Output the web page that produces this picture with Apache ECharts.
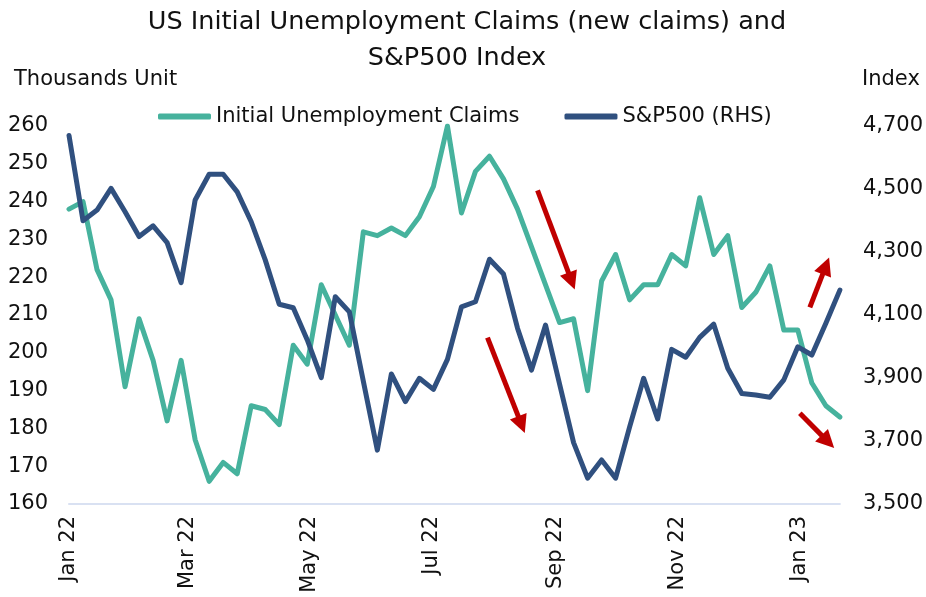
<!DOCTYPE html>
<html><head><meta charset="utf-8">
<script src="https://cdn.jsdelivr.net/npm/echarts@6/dist/echarts.min.js"></script>
<style>html,body{margin:0;padding:0;background:#fff}#c{width:926px;height:597px}</style>
</head><body><div id="c"></div>
<script>
// Weekly observations (week ending dates)
const weeks = ['2022-01-01','2022-01-08','2022-01-15','2022-01-22','2022-01-29','2022-02-05','2022-02-12','2022-02-19','2022-02-26',
'2022-03-05','2022-03-12','2022-03-19','2022-03-26','2022-04-02','2022-04-09','2022-04-16','2022-04-23','2022-04-30',
'2022-05-07','2022-05-14','2022-05-21','2022-05-28','2022-06-04','2022-06-11','2022-06-18','2022-06-25',
'2022-07-02','2022-07-09','2022-07-16','2022-07-23','2022-07-30','2022-08-06','2022-08-13','2022-08-20','2022-08-27',
'2022-09-03','2022-09-10','2022-09-17','2022-09-24','2022-10-01','2022-10-08','2022-10-15','2022-10-22','2022-10-29',
'2022-11-05','2022-11-12','2022-11-19','2022-11-26','2022-12-03','2022-12-10','2022-12-17','2022-12-24','2022-12-31',
'2023-01-07','2023-01-14','2023-01-21'];
// Initial unemployment claims, thousands
const claims = [238,240,222,214,191,209,198,182,198,177,166,171,168,186,185,181,202,197,218,210,202,232,231,233,231,236,244,260,237,248,252,246,238,228,218,208,209,190,219,226,214,218,218,226,223,241,226,231,212,216,223,206,206,192,186,183];
// S&P 500 index level
const sp500 = [4670,4399,4433,4502,4428,4349,4383,4330,4203,4465,4547,4547,4491,4396,4275,4134,4123,4021,3901,4158,4110,3890,3671,3913,3825,3899,3864,3959,4126,4142,4277,4230,4058,3925,4068,3881,3695,3582,3640,3582,3745,3899,3770,3991,3966,4029,4071,3931,3851,3846,3839,3894,3999,3973,4074,4179];
// X tick labels
const xTickDates = ['2022-01-01','2022-03-01','2022-05-01','2022-07-01','2022-09-01','2022-11-01','2023-01-01'];
const xTickLabels = ['Jan 22','Mar 22','May 22','Jul 22','Sep 22','Nov 22','Jan 23'];
// Red trend arrows: [tail date, tail claims-axis value, head date, head value]
const arrows = [
  ['2022-08-23',243,'2022-09-09',219],
  ['2022-07-29',204,'2022-08-15',181],
  ['2023-01-06',212,'2023-01-14',223],
  ['2023-01-01',184,'2023-01-15',176.5]
];

// day number counted from the first week
function day(s){const p=s.split('-').map(Number);return Math.round((Date.UTC(p[0],p[1]-1,p[2])-Date.UTC(2022,0,1))/86400000);}
const xTickDays = xTickDates.map(day);
const FONT = 'DejaVu Sans';
const TXT = '#111';

const chart = echarts.init(document.getElementById('c'), null, {renderer:'canvas'});
chart.setOption({
  animation:false,
  backgroundColor:'#fff',
  textStyle:{fontFamily:FONT},
  grid:{left:69,right:83,top:126,bottom:93,containLabel:false},
  legend:{
    left:153, top:101, itemWidth:53, itemHeight:6, itemGap:45, icon:'roundRect',
    textStyle:{fontFamily:FONT,fontSize:21,color:TXT},
    data:['Initial Unemployment Claims','S&P500 (RHS)']
  },
  graphic:[
    {type:'text',x:467,y:22,style:{text:'US Initial Unemployment Claims (new claims) and',font:'25.5px "DejaVu Sans"',fill:TXT,textAlign:'center',textVerticalAlign:'middle'}},
    {type:'text',x:457,y:58,style:{text:'S&P500 Index',font:'25.5px "DejaVu Sans"',fill:TXT,textAlign:'center',textVerticalAlign:'middle'}},
    {type:'text',x:14,y:80,style:{text:'Thousands Unit',font:'21px "DejaVu Sans"',fill:TXT,textAlign:'left',textVerticalAlign:'middle'}},
    {type:'text',x:862,y:80,style:{text:'Index',font:'21px "DejaVu Sans"',fill:TXT,textAlign:'left',textVerticalAlign:'middle'}}
  ],
  xAxis:{
    type:'value', min:day(weeks[0]), max:day(weeks[weeks.length-1]),
    axisLine:{show:true,onZero:false,lineStyle:{color:'#D9E1F2',width:2}},
    axisTick:{show:false},
    splitLine:{show:false},
    axisLabel:{
      customValues:xTickDays, rotate:90, margin:12, showMinLabel:true,
      fontFamily:FONT, fontSize:21, color:TXT,
      formatter:function(v){const i=xTickDays.indexOf(v);return i>=0?xTickLabels[i]:'';}
    }
  },
  yAxis:[
    {type:'value',min:160,max:260,interval:10,
     axisLine:{show:false},axisTick:{show:false},splitLine:{show:false},
     axisLabel:{fontFamily:FONT,fontSize:21,color:TXT,margin:21}},
    {type:'value',min:3500,max:4700,interval:200,position:'right',
     axisLine:{show:false},axisTick:{show:false},splitLine:{show:false},
     axisLabel:{fontFamily:FONT,fontSize:21,color:TXT,margin:23,
       formatter:function(v){return v.toLocaleString('en-US');}}}
  ],
  series:[
    {name:'Initial Unemployment Claims',type:'line',yAxisIndex:0,showSymbol:false,symbol:'none',
     color:'#46B29D',lineStyle:{width:5,color:'#46B29D',cap:'round',join:'round'},z:2,
     data:weeks.map((w,i)=>[day(w),claims[i]]),
     markLine:{silent:true,symbol:['none','triangle'],symbolSize:18,
       label:{show:false},
       lineStyle:{color:'#C00000',width:5,type:'solid'},
       itemStyle:{color:'#C00000'},
       data:arrows.map(a=>[{coord:[day(a[0]),a[1]]},{coord:[day(a[2]),a[3]]}])}
    },
    {name:'S&P500 (RHS)',type:'line',yAxisIndex:1,showSymbol:false,symbol:'none',
     color:'#30507F',lineStyle:{width:5,color:'#30507F',cap:'round',join:'round'},z:3,
     data:weeks.map((w,i)=>[day(w),sp500[i]])}
  ]
});
</script></body></html>
